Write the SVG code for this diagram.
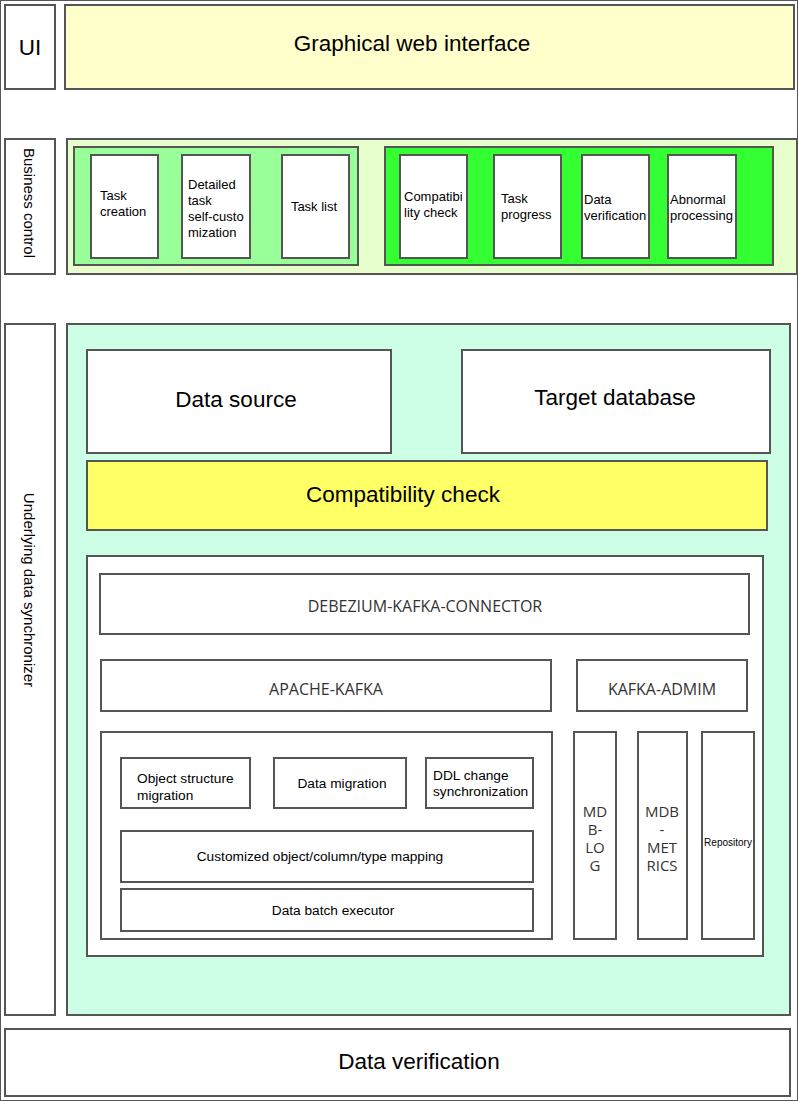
<svg xmlns="http://www.w3.org/2000/svg" width="798" height="1101" viewBox="0 0 798 1101">
<style>
rect{stroke:#555;stroke-width:2}
.w{fill:#fff}
text{font-family:"Liberation Sans",Arial,sans-serif;fill:#000}
.s13{font-size:13px}
.s14{font-size:13.7px}
.v{font-size:15px}
.big{font-size:22.5px}
.c{text-anchor:middle}
.k{font-family:"Open Sans","Noto Sans",sans-serif;font-size:16px;fill:#333;text-anchor:middle}
.m{font-family:"Open Sans","Noto Sans",sans-serif;font-size:15px;fill:#333;text-anchor:middle}
</style>
<rect width="798" height="1101" fill="#fff" stroke="none"/>
<g id="ui-label"><rect class="w" x="5" y="5" width="50" height="84"/><text class="big c" x="30" y="55">UI</text></g>
<g id="web-interface"><rect x="65" y="5" width="729" height="84" fill="#FFFFCC"/><text class="big c" x="412" y="51">Graphical web interface</text></g>

<g id="business-label"><rect class="w" x="5" y="139" width="50" height="135"/><text class="v c" transform="translate(24,203) rotate(90)">Business control</text></g>
<g id="business-area"><rect x="67" y="139" width="730" height="135" fill="#E6FFCC"/></g>
<g id="group-a"><rect x="74" y="147" width="284" height="118" fill="#99FF99"/></g>
<g id="group-b"><rect x="385" y="147" width="388" height="118" fill="#33FF33"/></g>
<g id="task-creation"><rect class="w" x="91" y="155" width="67" height="103"/><text class="s13" x="100" y="200">Task</text><text class="s13" x="100" y="216">creation</text></g>
<g id="detailed-task"><rect class="w" x="182" y="155" width="68" height="103"/><text class="s13" x="188" y="189">Detailed</text><text class="s13" x="188" y="205">task</text><text class="s13" x="188" y="221">self-custo</text><text class="s13" x="188" y="237">mization</text></g>
<g id="task-list"><rect class="w" x="282" y="155" width="67" height="103"/><text class="s13 c" x="314" y="211">Task list</text></g>
<g id="compat-bc"><rect class="w" x="400" y="155" width="67" height="103"/><text class="s13" x="404" y="201">Compatibi</text><text class="s13" x="404" y="217">lity check</text></g>
<g id="task-progress"><rect class="w" x="494" y="155" width="67" height="103"/><text class="s13" x="501" y="203">Task</text><text class="s13" x="501" y="219">progress</text></g>
<g id="data-verif-bc"><rect class="w" x="582" y="155" width="67" height="103"/><text class="s13" x="584" y="204">Data</text><text class="s13" x="584" y="220">verification</text></g>
<g id="abnormal"><rect class="w" x="668" y="155" width="68" height="103"/><text class="s13" x="670" y="204">Abnormal</text><text class="s13" x="670" y="220">processing</text></g>

<g id="sync-label"><rect class="w" x="5" y="324" width="50" height="691"/><text class="v c" transform="translate(24,590) rotate(90)">Underlying data synchronizer</text></g>
<g id="sync-area"><rect x="67" y="324" width="723" height="691" fill="#CCFFE6"/></g>
<g id="data-source"><rect class="w" x="87" y="350" width="304" height="103"/><text class="big c" x="236" y="407">Data source</text></g>
<g id="target-db"><rect class="w" x="462" y="350" width="308" height="103"/><text class="big c" x="615" y="405">Target database</text></g>
<g id="compat-check"><rect x="87" y="461" width="680" height="69" fill="#FFFF66"/><text class="big c" x="403" y="502">Compatibility check</text></g>

<g id="engine"><rect class="w" x="87" y="556" width="676" height="400"/></g>
<g id="debezium"><rect class="w" x="100" y="574" width="649" height="60"/><text class="k" x="425" y="612">DEBEZIUM-KAFKA-CONNECTOR</text></g>
<g id="apache-kafka"><rect class="w" x="101" y="660" width="450" height="51"/><text class="k" x="326" y="695">APACHE-KAFKA</text></g>
<g id="kafka-admin"><rect class="w" x="577" y="660" width="170" height="51"/><text class="k" x="662" y="695">KAFKA-ADMIM</text></g>
<g id="migration-engine"><rect class="w" x="101" y="732" width="451" height="207"/></g>
<g id="object-structure"><rect class="w" x="121" y="758" width="129" height="50"/><text class="s14" x="137" y="783">Object structure</text><text class="s14" x="137" y="800">migration</text></g>
<g id="data-migration"><rect class="w" x="274" y="758" width="132" height="50"/><text class="s14 c" x="342" y="788">Data migration</text></g>
<g id="ddl-change"><rect class="w" x="426" y="758" width="107" height="50"/><text class="s14" x="433" y="780">DDL change</text><text class="s14" x="433" y="796">synchronization</text></g>
<g id="mapping"><rect class="w" x="121" y="831" width="412" height="51"/><text class="s14 c" x="320" y="861">Customized object/column/type mapping</text></g>
<g id="batch-executor"><rect class="w" x="121" y="889" width="412" height="42"/><text class="s14 c" x="333" y="915">Data batch executor</text></g>
<g id="mdb-log"><rect class="w" x="574" y="732" width="42" height="207"/><text class="m" x="595" y="817">MD</text><text class="m" x="595" y="835">B-</text><text class="m" x="595" y="853">LO</text><text class="m" x="595" y="871">G</text></g>
<g id="mdb-metrics"><rect class="w" x="638" y="732" width="49" height="207"/><text class="m" x="662" y="817">MDB</text><text class="m" x="662" y="835">-</text><text class="m" x="662" y="853">MET</text><text class="m" x="662" y="871">RICS</text></g>
<g id="repository"><rect class="w" x="702" y="732" width="52" height="207"/><text class="c" x="728" y="846" font-size="10">Repository</text></g>

<g id="data-verification"><rect class="w" x="5" y="1029" width="785" height="67"/><text class="big c" x="419" y="1069">Data verification</text></g>
<g id="connectors"></g>
</svg>
